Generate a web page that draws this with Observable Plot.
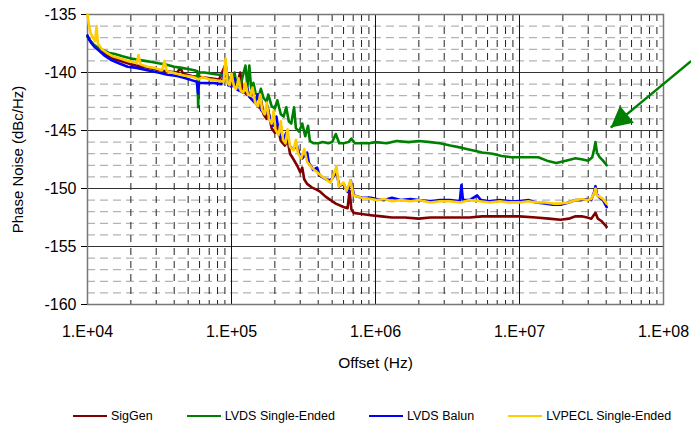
<!DOCTYPE html>
<html>
<head>
<meta charset="utf-8">
<script src="https://cdn.jsdelivr.net/npm/d3@7"></script>
<script src="https://cdn.jsdelivr.net/npm/@observablehq/plot@0.6"></script>
<style>
  body { margin: 0; background: white; font-family: "Liberation Sans", Arial, sans-serif; }
  #legend { display: flex; align-items: center; padding-left: 73px; gap: 34px; margin-top: 9px; font-size: 12.5px; line-height: 14px; }
  .item { display: flex; align-items: center; }
  .sw { width: 34px; height: 2.5px; margin-right: 4px; }
</style>
</head>
<body>
<div id="chart"></div>
<div id="legend"></div>
<script>
// ---- Data (offset Hz, phase noise dBc/Hz) ----
const seriesNames = ["SigGen", "LVDS Single-Ended", "LVDS Balun", "LVPECL Single-Ended"];
const seriesColors = ["#800000", "#008000", "#0000ff", "#ffcc00"];

const sigGen = [[1.0e4,-136.9],[1.05e4,-137.3],[1.12e4,-137.7],[1.25e4,-138.2],[1.45e4,-138.7],[1.7e4,-139.0],[2.0e4,-139.3],[2.4e4,-139.5],[2.9e4,-139.7],[3.5e4,-139.9],[4.2e4,-140.0],[4.42e4,-139.6],[4.6e4,-140.1],[5.3e4,-140.3],[6.1e4,-140.4],[7.1e4,-140.5],[8.2e4,-140.6],[9.1e4,-139.3],[9.5e4,-140.8],[1.0e5,-141.0],[1.08e5,-141.3],[1.15e5,-140.0],[1.2e5,-141.6],[1.28e5,-141.9],[1.35e5,-142.0],[1.4e5,-141.5],[1.46e5,-142.6],[1.55e5,-143.0],[1.6e5,-142.3],[1.67e5,-143.6],[1.75e5,-144.0],[1.8e5,-143.3],[1.9e5,-144.8],[2.0e5,-145.2],[2.08e5,-144.5],[2.2e5,-145.9],[2.35e5,-146.3],[2.45e5,-145.8],[2.55e5,-147.0],[2.7e5,-147.5],[2.85e5,-148.0],[3.0e5,-148.6],[3.1e5,-148.2],[3.2e5,-149.2],[3.35e5,-149.6],[3.6e5,-149.9],[3.9e5,-150.1],[4.15e5,-150.3],[4.5e5,-150.7],[4.88e5,-151.0],[5.3e5,-151.3],[6.0e5,-151.6],[6.4e5,-151.7],[6.61e5,-150.2],[6.8e5,-151.8],[7.05e5,-152.1],[8.0e5,-152.2],[9.26e5,-152.3],[1.1e6,-152.4],[1.3e6,-152.5],[1.6e6,-152.5],[2.0e6,-152.6],[2.4e6,-152.5],[3.0e6,-152.5],[3.9e6,-152.5],[4.5e6,-152.5],[5.5e6,-152.4],[7.0e6,-152.4],[1.0e7,-152.4],[1.3e7,-152.5],[1.6e7,-152.6],[1.93e7,-152.7],[2.2e7,-152.6],[2.45e7,-152.4],[2.7e7,-152.4],[2.95e7,-152.5],[3.15e7,-152.6],[3.37e7,-152.1],[3.5e7,-152.6],[3.7e7,-152.8],[4.03e7,-153.3]];

const lvdsSingle = [[1.0e4,-136.9],[1.05e4,-137.3],[1.1e4,-137.6],[1.2e4,-137.9],[1.3e4,-138.1],[1.4e4,-138.3],[1.55e4,-138.4],[1.75e4,-138.6],[2.0e4,-138.8],[2.26e4,-138.9],[2.5e4,-139.0],[2.8e4,-139.1],[3.1e4,-139.2],[3.5e4,-139.3],[4.0e4,-139.5],[4.5e4,-139.6],[5.0e4,-139.7],[5.5e4,-139.8],[5.8e4,-139.9],[5.87e4,-143.0],[5.95e4,-140.0],[6.5e4,-140.0],[7.3e4,-140.1],[8.2e4,-140.2],[9.0e4,-140.3],[9.5e4,-140.4],[1.0e5,-140.6],[1.05e5,-140.0],[1.08e5,-141.0],[1.15e5,-141.2],[1.25e5,-139.4],[1.29e5,-141.2],[1.33e5,-139.4],[1.37e5,-141.4],[1.42e5,-140.9],[1.47e5,-141.8],[1.55e5,-142.0],[1.6e5,-141.4],[1.67e5,-142.2],[1.75e5,-142.5],[1.8e5,-141.9],[1.9e5,-142.9],[2.0e5,-143.1],[2.08e5,-142.4],[2.2e5,-143.6],[2.3e5,-143.8],[2.4e5,-143.0],[2.5e5,-144.2],[2.6e5,-144.4],[2.72e5,-143.0],[2.8e5,-144.8],[2.95e5,-145.1],[3.1e5,-144.4],[3.25e5,-145.5],[3.4e5,-144.6],[3.5e5,-145.9],[3.7e5,-146.1],[4.0e5,-146.1],[4.3e5,-146.0],[4.7e5,-146.1],[5.0e5,-146.0],[5.3e5,-145.3],[5.6e5,-146.1],[6.0e5,-146.1],[6.5e5,-146.0],[6.8e5,-145.7],[7.2e5,-146.1],[8.0e5,-146.1],[9.0e5,-146.1],[1.0e6,-146.0],[1.2e6,-146.1],[1.4e6,-145.9],[1.7e6,-146.0],[2.0e6,-145.9],[2.4e6,-146.0],[2.8e6,-146.1],[3.3e6,-146.3],[4.0e6,-146.5],[4.7e6,-146.7],[5.5e6,-146.9],[6.5e6,-147.0],[7.5e6,-147.2],[8.8e6,-147.3],[1.0e7,-147.3],[1.2e7,-147.3],[1.35e7,-147.3],[1.55e7,-147.6],[1.8e7,-147.8],[2.1e7,-147.6],[2.45e7,-147.4],[2.75e7,-147.5],[3.0e7,-147.6],[3.2e7,-147.3],[3.3e7,-146.6],[3.37e7,-146.0],[3.45e7,-146.9],[3.6e7,-147.3],[3.8e7,-147.6],[4.03e7,-148.0]];

const lvdsBalun = [[1.0e4,-136.8],[1.03e4,-137.2],[1.07e4,-137.5],[1.12e4,-137.8],[1.2e4,-138.1],[1.3e4,-138.5],[1.45e4,-138.9],[1.65e4,-139.2],[1.9e4,-139.5],[2.2e4,-139.6],[2.6e4,-139.8],[3.1e4,-140.0],[3.6e4,-140.2],[4.2e4,-140.3],[4.8e4,-140.5],[5.4e4,-140.7],[5.75e4,-140.8],[5.85e4,-141.8],[5.95e4,-140.9],[6.6e4,-140.9],[7.5e4,-140.9],[8.5e4,-141.0],[9.1e4,-139.5],[9.5e4,-141.1],[1.0e5,-141.2],[1.05e5,-140.5],[1.1e5,-141.5],[1.2e5,-141.7],[1.27e5,-141.0],[1.33e5,-142.1],[1.45e5,-142.6],[1.52e5,-141.9],[1.6e5,-143.2],[1.7e5,-143.6],[1.78e5,-142.9],[1.85e5,-144.1],[1.95e5,-144.6],[2.05e5,-143.8],[2.15e5,-145.4],[2.3e5,-145.8],[2.4e5,-145.2],[2.55e5,-146.4],[2.7e5,-146.6],[2.85e5,-146.3],[2.95e5,-147.0],[3.1e5,-147.4],[3.35e5,-146.9],[3.45e5,-147.8],[3.7e5,-148.4],[3.93e5,-148.2],[4.1e5,-148.9],[4.5e5,-149.2],[4.88e5,-149.3],[5.36e5,-148.6],[5.6e5,-149.8],[6.0e5,-149.6],[6.4e5,-150.3],[6.73e5,-149.3],[7.1e5,-150.6],[8.0e5,-150.8],[9.3e5,-150.8],[1.02e6,-150.9],[1.15e6,-151.0],[1.3e6,-150.8],[1.5e6,-151.0],[1.75e6,-150.9],[2.0e6,-151.0],[2.4e6,-151.1],[2.8e6,-151.0],[3.3e6,-151.0],[3.85e6,-151.1],[3.95e6,-149.7],[4.05e6,-151.0],[4.5e6,-151.0],[5.08e6,-150.6],[5.4e6,-151.0],[6.2e6,-151.1],[7.3e6,-151.0],[8.5e6,-151.1],[1.0e7,-151.1],[1.15e7,-151.0],[1.3e7,-151.2],[1.5e7,-151.3],[1.7e7,-151.4],[1.93e7,-151.4],[2.2e7,-151.2],[2.45e7,-151.0],[2.7e7,-151.0],[2.95e7,-150.9],[3.15e7,-151.0],[3.3e7,-150.3],[3.37e7,-149.8],[3.45e7,-150.5],[3.6e7,-150.8],[3.8e7,-151.0],[4.03e7,-151.6]];

const lvpecl = [[1.0e4,-135.0],[1.02e4,-135.8],[1.05e4,-136.6],[1.09e4,-137.0],[1.13e4,-137.3],[1.155e4,-136.0],[1.18e4,-137.5],[1.26e4,-138.0],[1.36e4,-138.3],[1.5e4,-138.6],[1.7e4,-138.8],[1.9e4,-139.0],[2.1e4,-139.1],[2.2e4,-139.2],[2.26e4,-138.5],[2.33e4,-139.3],[2.6e4,-139.5],[2.9e4,-139.6],[3.3e4,-139.8],[3.43e4,-139.0],[3.55e4,-139.9],[3.9e4,-140.0],[4.4e4,-140.2],[4.9e4,-140.3],[5.5e4,-140.4],[5.9e4,-140.6],[6.3e4,-140.4],[7.1e4,-140.6],[8.0e4,-140.7],[8.8e4,-140.8],[9.1e4,-138.8],[9.4e4,-140.9],[9.7e4,-141.1],[1.0e5,-140.1],[1.04e5,-141.2],[1.08e5,-141.4],[1.12e5,-140.5],[1.16e5,-141.6],[1.21e5,-141.7],[1.25e5,-140.9],[1.3e5,-141.9],[1.35e5,-142.0],[1.4e5,-141.3],[1.46e5,-142.6],[1.53e5,-142.9],[1.58e5,-141.9],[1.63e5,-143.2],[1.7e5,-143.6],[1.76e5,-142.6],[1.82e5,-144.0],[1.9e5,-144.4],[1.96e5,-143.3],[2.02e5,-144.9],[2.12e5,-145.4],[2.2e5,-144.2],[2.28e5,-145.8],[2.37e5,-146.1],[2.45e5,-144.9],[2.55e5,-146.4],[2.7e5,-146.7],[2.8e5,-145.8],[2.9e5,-147.0],[3.05e5,-147.4],[3.2e5,-146.6],[3.35e5,-147.7],[3.6e5,-148.2],[3.93e5,-148.6],[4.3e5,-149.0],[4.88e5,-149.5],[5.36e5,-148.1],[5.55e5,-149.8],[6.0e5,-149.5],[6.3e5,-150.2],[6.7e5,-149.3],[7.05e5,-150.6],[8.0e5,-150.8],[9.3e5,-150.9],[1.02e6,-151.0],[1.15e6,-150.9],[1.3e6,-151.1],[1.5e6,-151.0],[1.75e6,-151.1],[2.0e6,-151.0],[2.4e6,-151.2],[2.8e6,-151.1],[3.3e6,-151.1],[3.9e6,-151.2],[4.5e6,-151.0],[5.3e6,-151.1],[6.2e6,-151.2],[7.3e6,-151.1],[8.5e6,-151.2],[1.0e7,-151.2],[1.15e7,-151.1],[1.3e7,-151.2],[1.5e7,-151.2],[1.7e7,-151.3],[1.93e7,-151.3],[2.2e7,-151.2],[2.45e7,-151.0],[2.7e7,-150.9],[2.95e7,-151.0],[3.15e7,-150.9],[3.3e7,-150.4],[3.37e7,-150.0],[3.45e7,-150.6],[3.6e7,-150.7],[3.8e7,-150.9],[4.03e7,-151.3]];

const xTicks = [1e4, 1e5, 1e6, 1e7, 1e8];
const xTickLabels = ["1.E+04", "1.E+05", "1.E+06", "1.E+07", "1.E+08"];
const yTicks = [-135, -140, -145, -150, -155, -160];
const xTitle = "Offset (Hz)";
const yTitle = "Phase Noise (dBc/Hz)";
// annotation arrow (from, to)
const arrowLine = [{x1: 1.56e8, y1: -139.0, x2: 4.3e7, y2: -144.75}];

// ---- Derived tables ----
const allSeries = [sigGen, lvdsSingle, lvdsBalun, lvpecl];
const table = allSeries.flatMap((s, i) => s.map(([f, v]) => ({f, v, name: seriesNames[i]})));
const minorX = [];
for (let d = 1e4; d < 1e8; d *= 10) for (let k = 2; k <= 9; k++) minorX.push(d * k);
const minorY = d3.range(-159, -135).filter(v => v % 5 !== 0);
const majorX = xTicks.slice(1, -1);
const majorY = yTicks.slice(1, -1);

const headSymbol = {
  draw(ctx) { ctx.moveTo(0, 0); ctx.lineTo(-11, 21); ctx.lineTo(11, 21); ctx.closePath(); }
};

const chart = Plot.plot({
  width: 691,
  height: 400,
  marginLeft: 87,
  marginRight: 28,
  marginTop: 14,
  marginBottom: 96,
  style: {fontFamily: '"Liberation Sans", Arial, sans-serif', fontSize: "16px", color: "black", background: "white", overflow: "visible"},
  x: {type: "log", domain: [1e4, 1e8], axis: null},
  y: {domain: [-160, -135], axis: null},
  color: {domain: seriesNames, range: seriesColors},
  marks: [
    Plot.ruleY(minorY, {stroke: "#a0a0a0", strokeWidth: 1, strokeDasharray: "8,5"}),
    Plot.ruleX(minorX, {stroke: "#222", strokeWidth: 1, strokeDasharray: "7,6"}),
    Plot.ruleY(majorY, {stroke: "#333", strokeWidth: 1}),
    Plot.ruleX(majorX, {stroke: "#111", strokeWidth: 1}),
    Plot.frame({stroke: "#777", strokeWidth: 1.5}),
    Plot.axisY({ticks: yTicks, tickSize: 6, tickPadding: 5, tickFormat: d => String(d), fontSize: 16, label: null}),
    Plot.axisX({ticks: xTicks, tickSize: 0, tickPadding: 21, tickFormat: d => xTickLabels[xTicks.indexOf(d)], fontSize: 16, label: null}),
    Plot.line(table, {x: "f", y: "v", z: "name", stroke: "name", strokeWidth: 2.6, strokeLinejoin: "round"}),
    Plot.link(arrowLine, {x1: "x1", y1: "y1", x2: "x2", y2: "y2", stroke: "#008000", strokeWidth: 2.5}),
    Plot.dot(arrowLine, {x: "x2", y: "y2", symbol: headSymbol, r: 5, fill: "#008000", stroke: null, rotate: 230.4}),
    Plot.text([xTitle], {frameAnchor: "bottom", dy: 63, fontSize: 15.5, text: d => d}),
    Plot.text([yTitle], {frameAnchor: "left", textAnchor: "middle", dx: -69, rotate: -90, fontSize: 15, text: d => d})
  ]
});
document.getElementById("chart").appendChild(chart);

const legend = document.getElementById("legend");
seriesNames.forEach((n, i) => {
  const it = document.createElement("div");
  it.className = "item";
  it.innerHTML = `<span class="sw" style="background:${seriesColors[i]}"></span><span>${n}</span>`;
  legend.appendChild(it);
});
</script>
</body>
</html>
